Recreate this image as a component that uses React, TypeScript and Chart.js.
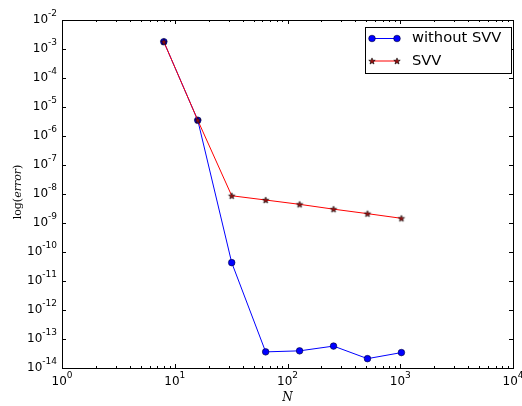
import React, { useEffect, useRef } from "react";
import { Chart, registerables } from "chart.js";

Chart.register(...registerables);

// Grid sizes and measured errors
const gridSizes = [8, 16, 32, 64, 128, 256, 512, 1024];
const errorWithoutSVV = [1.78e-3, 3.5e-6, 4.3e-11, 3.6e-14, 3.9e-14, 5.7e-14, 2.1e-14, 3.4e-14];
const errorSVV = [1.78e-3, 3.5e-6, 8.7e-9, 6.2e-9, 4.4e-9, 3.0e-9, 2.1e-9, 1.45e-9];

const seriesLabels = ["without SVV", "SVV"];
const xExponents = [0, 1, 2, 3, 4];
const yExponents = [-2, -3, -4, -5, -6, -7, -8, -9, -10, -11, -12, -13, -14];

const BLUE = "#0000ff";
const RED = "#ff0000";
const STAR_FILL = "#9a1010";
const STAR_R = 3.4;

function drawStarPath(ctx: CanvasRenderingContext2D, cx: number, cy: number, r: number) {
  const inner = r * 0.42;
  ctx.beginPath();
  for (let i = 0; i < 10; i++) {
    const rad = i % 2 === 0 ? r : inner;
    const a = -Math.PI / 2 + (i * Math.PI) / 5;
    const px = cx + rad * Math.cos(a);
    const py = cy + rad * Math.sin(a);
    if (i === 0) ctx.moveTo(px, py);
    else ctx.lineTo(px, py);
  }
  ctx.closePath();
}

function makeStarCanvas(): HTMLCanvasElement {
  const c = document.createElement("canvas");
  c.width = 10;
  c.height = 10;
  const g = c.getContext("2d")!;
  drawStarPath(g, 5, 5.3, STAR_R);
  g.fillStyle = STAR_FILL;
  g.fill();
  g.lineWidth = 0.6;
  g.strokeStyle = "#000";
  g.stroke();
  return c;
}

function drawPower(
  ctx: CanvasRenderingContext2D,
  exp: number,
  x: number,
  y: number,
  align: "center" | "right"
) {
  const base = "10";
  const sup = String(exp);
  ctx.font = "12px 'DejaVu Sans'";
  const wb = ctx.measureText(base).width;
  ctx.font = "9px 'DejaVu Sans'";
  const ws = ctx.measureText(sup).width;
  const total = wb + ws;
  const left = align === "center" ? x - total / 2 : x - total;
  ctx.textAlign = "left";
  ctx.textBaseline = "middle";
  ctx.fillStyle = "#000";
  ctx.font = "12px 'DejaVu Sans'";
  ctx.fillText(base, left, y);
  ctx.font = "9px 'DejaVu Sans'";
  ctx.fillText(sup, left + wb, y - 6);
}

const framePlugin = {
  id: "frameAxes",
  afterDraw(chart: any) {
    const ctx: CanvasRenderingContext2D = chart.ctx;
    const { left, right, top, bottom } = chart.chartArea;
    const xs = chart.scales.x;
    const ys = chart.scales.y;
    ctx.save();
    ctx.strokeStyle = "#000";
    ctx.lineWidth = 1;
    ctx.strokeRect(Math.round(left) + 0.5, Math.round(top) + 0.5, Math.round(right - left), Math.round(bottom - top));

    ctx.beginPath();
    // x ticks, major and minor, top and bottom, pointing inward
    for (let e = xExponents[0]; e <= xExponents[xExponents.length - 1]; e++) {
      for (let m = 1; m <= 9; m++) {
        const v = m * Math.pow(10, e);
        if (v > Math.pow(10, xExponents[xExponents.length - 1])) break;
        const px = Math.round(xs.getPixelForValue(v)) + 0.5;
        const len = m === 1 ? 4 : 2;
        ctx.moveTo(px, bottom);
        ctx.lineTo(px, bottom - len);
        ctx.moveTo(px, top);
        ctx.lineTo(px, top + len);
      }
    }
    // y ticks at each decade, left and right
    for (const e of yExponents) {
      const py = Math.round(ys.getPixelForValue(Math.pow(10, e))) + 0.5;
      ctx.moveTo(left, py);
      ctx.lineTo(left + 4, py);
      ctx.moveTo(right, py);
      ctx.lineTo(right - 4, py);
    }
    ctx.stroke();

    for (const e of xExponents) {
      drawPower(ctx, e, xs.getPixelForValue(Math.pow(10, e)), bottom + 14, "center");
    }
    for (const e of yExponents) {
      drawPower(ctx, e, left - 5, ys.getPixelForValue(Math.pow(10, e)), "right");
    }

    // axis titles
    ctx.fillStyle = "#000";
    ctx.textBaseline = "middle";
    ctx.textAlign = "center";
    ctx.font = "italic 12px 'DejaVu Serif'";
    ctx.fillText("N", (left + right) / 2, bottom + 30);

    ctx.save();
    ctx.translate(18, 192);
    ctx.rotate(-Math.PI / 2);
    ctx.font = "11px 'DejaVu Serif'";
    const p1 = "log(";
    const p2 = "error";
    const p3 = ")";
    const w1 = ctx.measureText(p1).width;
    const w3 = ctx.measureText(p3).width;
    ctx.font = "italic 11px 'DejaVu Serif'";
    const w2 = ctx.measureText(p2).width;
    let cx = -(w1 + w2 + w3) / 2;
    ctx.textAlign = "left";
    ctx.font = "11px 'DejaVu Serif'";
    ctx.fillText(p1, cx, 0);
    cx += w1;
    ctx.font = "italic 11px 'DejaVu Serif'";
    ctx.fillText(p2, cx, 0);
    cx += w2;
    ctx.font = "11px 'DejaVu Serif'";
    ctx.fillText(p3, cx, 0);
    ctx.restore();

    // legend box
    const lx = 365.5;
    const ly = 27.5;
    const lw = 146;
    const lh = 46;
    ctx.fillStyle = "#fff";
    ctx.fillRect(lx, ly, lw, lh);
    ctx.strokeStyle = "#000";
    ctx.lineWidth = 1;
    ctx.strokeRect(lx, ly, lw, lh);

    const rows = [38.5, 61];
    const x0 = 372;
    const x1 = 397;
    // row 1: blue line with circles
    ctx.strokeStyle = BLUE;
    ctx.beginPath();
    ctx.moveTo(x0, rows[0]);
    ctx.lineTo(x1, rows[0]);
    ctx.stroke();
    for (const px of [x0, x1]) {
      ctx.beginPath();
      ctx.arc(px, rows[0], 3.3, 0, Math.PI * 2);
      ctx.fillStyle = BLUE;
      ctx.fill();
      ctx.lineWidth = 0.6;
      ctx.strokeStyle = "#000033";
      ctx.stroke();
    }
    // row 2: red line with stars
    ctx.lineWidth = 1;
    ctx.strokeStyle = RED;
    ctx.beginPath();
    ctx.moveTo(x0, rows[1]);
    ctx.lineTo(x1, rows[1]);
    ctx.stroke();
    for (const px of [x0, x1]) {
      drawStarPath(ctx, px, rows[1] + 0.3, STAR_R);
      ctx.fillStyle = STAR_FILL;
      ctx.fill();
      ctx.lineWidth = 0.6;
      ctx.strokeStyle = "#000";
      ctx.stroke();
    }

    ctx.fillStyle = "#000";
    ctx.font = "14.7px 'DejaVu Sans'";
    ctx.textAlign = "left";
    ctx.textBaseline = "middle";
    ctx.fillText(seriesLabels[0], 412, rows[0]);
    ctx.fillText(seriesLabels[1], 412, rows[1]);
    ctx.restore();
  },
};

export default function App() {
  const canvasRef = useRef<HTMLCanvasElement | null>(null);

  useEffect(() => {
    if (!canvasRef.current) return;
    const star = makeStarCanvas();
    const chart = new Chart(canvasRef.current, {
      type: "line",
      data: {
        datasets: [
          {
            label: seriesLabels[0],
            data: gridSizes.map((n, i) => ({ x: n, y: errorWithoutSVV[i] })),
            borderColor: BLUE,
            borderWidth: 1,
            pointStyle: "circle",
            pointRadius: 3.3,
            pointBackgroundColor: BLUE,
            pointBorderColor: "#000033",
            pointBorderWidth: 0.6,
            tension: 0,
            order: 1,
          },
          {
            label: seriesLabels[1],
            data: gridSizes.map((n, i) => ({ x: n, y: errorSVV[i] })),
            borderColor: RED,
            borderWidth: 1,
            pointStyle: star as any,
            pointRadius: 4,
            tension: 0,
            order: 0,
          },
        ],
      },
      options: {
        responsive: false,
        animation: false,
        devicePixelRatio: 1,
        layout: { padding: { left: 62, top: 20, right: 9, bottom: 38 } },
        plugins: { legend: { display: false }, tooltip: { enabled: false } },
        scales: {
          x: { type: "logarithmic", min: 1, max: 10000, display: false },
          y: { type: "logarithmic", min: 1e-14, max: 1e-2, display: false },
        },
      },
      plugins: [framePlugin],
    });
    return () => chart.destroy();
  }, []);

  return (
    <div style={{ position: "absolute", left: 0, top: 0, width: 522, height: 406, background: "#fff" }}>
      <canvas ref={canvasRef} width={522} height={406} />
    </div>
  );
}
